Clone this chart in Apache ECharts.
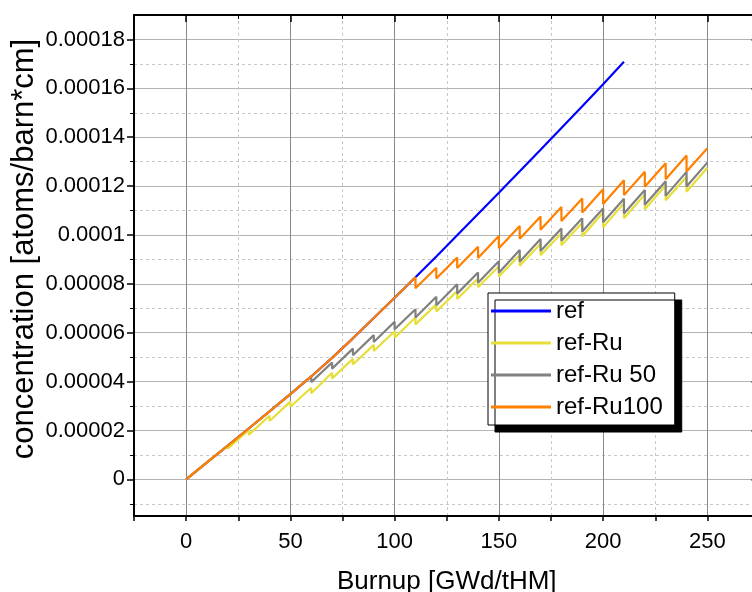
<!DOCTYPE html>
<html>
<head>
<meta charset="utf-8">
<script src="https://cdn.jsdelivr.net/npm/echarts@6/dist/echarts.min.js"></script>
<style>
html,body{margin:0;padding:0;background:#fff;}
#chart{width:752px;height:592px;}
</style>
</head>
<body>
<div id="chart"></div>
<script>
// ---- data (burnup GWd/tHM, concentration atoms/barn*cm) ----
const refBurnup = [0,10,20,30,40,50,60,70,80,90,100,110,120,130,140,150,160,170,180,190,200,210];
const refConc = [0,0.69e-5,1.38e-5,2.08e-5,2.78e-5,3.49e-5,4.21e-5,4.97e-5,5.77e-5,6.60e-5,7.43e-5,8.27e-5,
  9.12e-5,9.99e-5,10.86e-5,11.73e-5,12.61e-5,13.49e-5,14.38e-5,15.27e-5,16.17e-5,17.09e-5];

const ruBurnup = [0,10,20,20,30,30,40,40,50,50,60,60,70,70,80,80,90,90,100,100,110,110,120,120,130,130,
  140,140,150,150,160,160,170,170,180,180,190,190,200,200,210,210,220,220,230,230,240,240,250];
const ruConc = [0,0.69e-5,1.38e-5,1.25e-5,2.02e-5,1.82e-5,2.60e-5,2.39e-5,3.18e-5,2.97e-5,3.75e-5,3.52e-5,
  4.36e-5,4.13e-5,4.93e-5,4.70e-5,5.50e-5,5.25e-5,6.06e-5,5.80e-5,6.62e-5,6.34e-5,7.16e-5,6.87e-5,
  7.70e-5,7.38e-5,8.22e-5,7.86e-5,8.72e-5,8.30e-5,9.18e-5,8.74e-5,9.64e-5,9.17e-5,10.07e-5,9.58e-5,
  10.50e-5,9.95e-5,10.92e-5,10.32e-5,11.30e-5,10.68e-5,11.66e-5,11.05e-5,12.03e-5,11.42e-5,12.38e-5,11.77e-5,12.75e-5];

const ru50Burnup = [0,10,20,30,40,50,60,60,70,70,80,80,90,90,100,100,110,110,120,120,130,130,140,140,
  150,150,160,160,170,170,180,180,190,190,200,200,210,210,220,220,230,230,240,240,250];
const ru50Conc = [0,0.69e-5,1.38e-5,2.08e-5,2.78e-5,3.49e-5,4.21e-5,3.98e-5,4.78e-5,4.53e-5,5.35e-5,5.08e-5,
  5.90e-5,5.62e-5,6.45e-5,6.14e-5,6.96e-5,6.62e-5,7.47e-5,7.12e-5,7.98e-5,7.60e-5,8.46e-5,8.04e-5,
  8.92e-5,8.45e-5,9.38e-5,8.90e-5,9.83e-5,9.34e-5,10.26e-5,9.76e-5,10.68e-5,10.14e-5,11.08e-5,10.52e-5,
  11.48e-5,10.88e-5,11.84e-5,11.24e-5,12.20e-5,11.60e-5,12.58e-5,11.98e-5,12.96e-5];

const ru100Burnup = [0,10,20,30,40,50,60,70,80,90,100,110,110,120,120,130,130,140,140,150,150,160,160,
  170,170,180,180,190,190,200,200,210,210,220,220,230,230,240,240,250];
const ru100Conc = [0,0.69e-5,1.38e-5,2.08e-5,2.78e-5,3.49e-5,4.21e-5,4.97e-5,5.77e-5,6.60e-5,7.43e-5,8.27e-5,
  7.82e-5,8.66e-5,8.22e-5,9.08e-5,8.65e-5,9.52e-5,9.06e-5,9.96e-5,9.46e-5,10.37e-5,9.84e-5,10.76e-5,10.21e-5,
  11.14e-5,10.57e-5,11.49e-5,10.92e-5,11.87e-5,11.27e-5,12.24e-5,11.63e-5,12.59e-5,11.97e-5,12.93e-5,12.28e-5,
  13.25e-5,12.60e-5,13.55e-5];

const seriesNames = ['ref','ref-Ru','ref-Ru 50','ref-Ru100'];
const seriesColors = ['#0000ff','#e6df3a','#808080','#ff8000'];

// ---- ticks ----
const xMajor = [0,50,100,150,200,250];
const xMinor = [-25,25,75,125,175,225,275];
const yMajor = [0,0.00002,0.00004,0.00006,0.00008,0.0001,0.00012,0.00014,0.00016,0.00018];
const yMinor = [-0.00001,0.00001,0.00003,0.00005,0.00007,0.00009,0.00011,0.00013,0.00015,0.00017];

const FONT = 'Liberation Sans, Arial, Helvetica, sans-serif';
const X_MIN = -25, X_MAX = 275, Y_MIN = -0.000015, Y_MAX = 0.00019;

function pairs(xs, ys){ return xs.map((x,i)=>[x, ys[i]]); }

const chart = echarts.init(document.getElementById('chart'), null, {renderer:'canvas'});

const axisBlack = {show:true, onZero:false, lineStyle:{color:'#000', width:2}};

chart.setOption({
  animation:false,
  backgroundColor:'#fff',
  grid:{left:134, top:15, right:-7.5, bottom:76, containLabel:false, outerBoundsMode:'none'},
  xAxis:[
    { type:'value', position:'bottom', min:X_MIN, max:X_MAX, interval:25,
      name:'Burnup [GWd/tHM]', nameLocation:'middle', nameGap:53,
      nameTextStyle:{fontSize:26, fontFamily:FONT, color:'#000'},
      axisLine:axisBlack,
      axisTick:{show:true, inside:false, length:5, lineStyle:{color:'#000', width:1.5}},
      axisLabel:{show:true, customValues:xMajor, fontSize:22, fontFamily:FONT, color:'#000', margin:15},
      splitLine:{show:false}
    },
    { type:'value', position:'top', min:X_MIN, max:X_MAX,
      axisLine:axisBlack,
      axisTick:{show:true, inside:true, customValues:xMajor, length:7, lineStyle:{color:'#000', width:1.5}},
      axisLabel:{show:false},
      splitLine:{show:true, lineStyle:{color:'#888', width:1, type:'solid'}}
    },
    { type:'value', position:'top', min:X_MIN, max:X_MAX,
      axisLine:{show:false, onZero:false},
      axisTick:{show:true, inside:true, customValues:xMinor, length:4, lineStyle:{color:'#000', width:1}},
      axisLabel:{show:false},
      splitLine:{show:true, lineStyle:{color:'#c8c8c8', width:1, type:[3,3]}}
    }
  ],
  yAxis:[
    { type:'value', position:'left', min:Y_MIN, max:Y_MAX,
      axisLine:axisBlack,
      axisTick:{show:true, inside:false, customValues:yMajor, length:7, lineStyle:{color:'#000', width:1.5}},
      axisLabel:{show:true, customValues:yMajor, fontSize:22, fontFamily:FONT, color:'#000', margin:9,
        formatter:function(v){ return String(v); }},
      splitLine:{show:true, lineStyle:{color:'#b4b4b4', width:1, type:'solid'}}
    },
    { type:'value', position:'left', min:Y_MIN, max:Y_MAX,
      axisLine:{show:false, onZero:false},
      axisTick:{show:true, inside:false, customValues:yMinor, length:4, lineStyle:{color:'#000', width:1}},
      axisLabel:{show:false},
      splitLine:{show:true, lineStyle:{color:'#c8c8c8', width:1, type:[3,3]}}
    },
    { type:'value', position:'right', min:Y_MIN, max:Y_MAX,
      axisLine:axisBlack,
      axisTick:{show:true, inside:true, customValues:yMajor, length:8, lineStyle:{color:'#000', width:1.5}},
      axisLabel:{show:false},
      splitLine:{show:false}
    }
  ],
  legend:{
    orient:'vertical', left:488, top:293,
    icon:'rect', itemWidth:60, itemHeight:3, itemGap:8,
    padding:[6,12,6,3],
    backgroundColor:'#fff', borderColor:'#000', borderWidth:1,
    shadowColor:'#000', shadowOffsetX:7, shadowOffsetY:7, shadowBlur:0,
    textStyle:{fontSize:24, fontFamily:FONT, color:'#000', lineHeight:24},
    data:seriesNames
  },
  graphic:[{
    type:'text', x:24, y:249, rotation:Math.PI/2,
    style:{text:'concentration [atoms/barn*cm]', fontSize:31, fontFamily:FONT, fill:'#000',
      textAlign:'center', textVerticalAlign:'middle', verticalAlign:'middle'}
  }],
  series:[
    {name:seriesNames[0], type:'line', data:pairs(refBurnup, refConc), xAxisIndex:0, yAxisIndex:0,
      showSymbol:false, symbol:'none', color:seriesColors[0], lineStyle:{width:2.2}},
    {name:seriesNames[1], type:'line', data:pairs(ruBurnup, ruConc), xAxisIndex:0, yAxisIndex:0,
      showSymbol:false, symbol:'none', color:seriesColors[1], lineStyle:{width:2.2}},
    {name:seriesNames[2], type:'line', data:pairs(ru50Burnup, ru50Conc), xAxisIndex:0, yAxisIndex:0,
      showSymbol:false, symbol:'none', color:seriesColors[2], lineStyle:{width:2.2}},
    {name:seriesNames[3], type:'line', data:pairs(ru100Burnup, ru100Conc), xAxisIndex:0, yAxisIndex:0,
      showSymbol:false, symbol:'none', color:seriesColors[3], lineStyle:{width:2.2}}
  ]
});
</script>
</body>
</html>
